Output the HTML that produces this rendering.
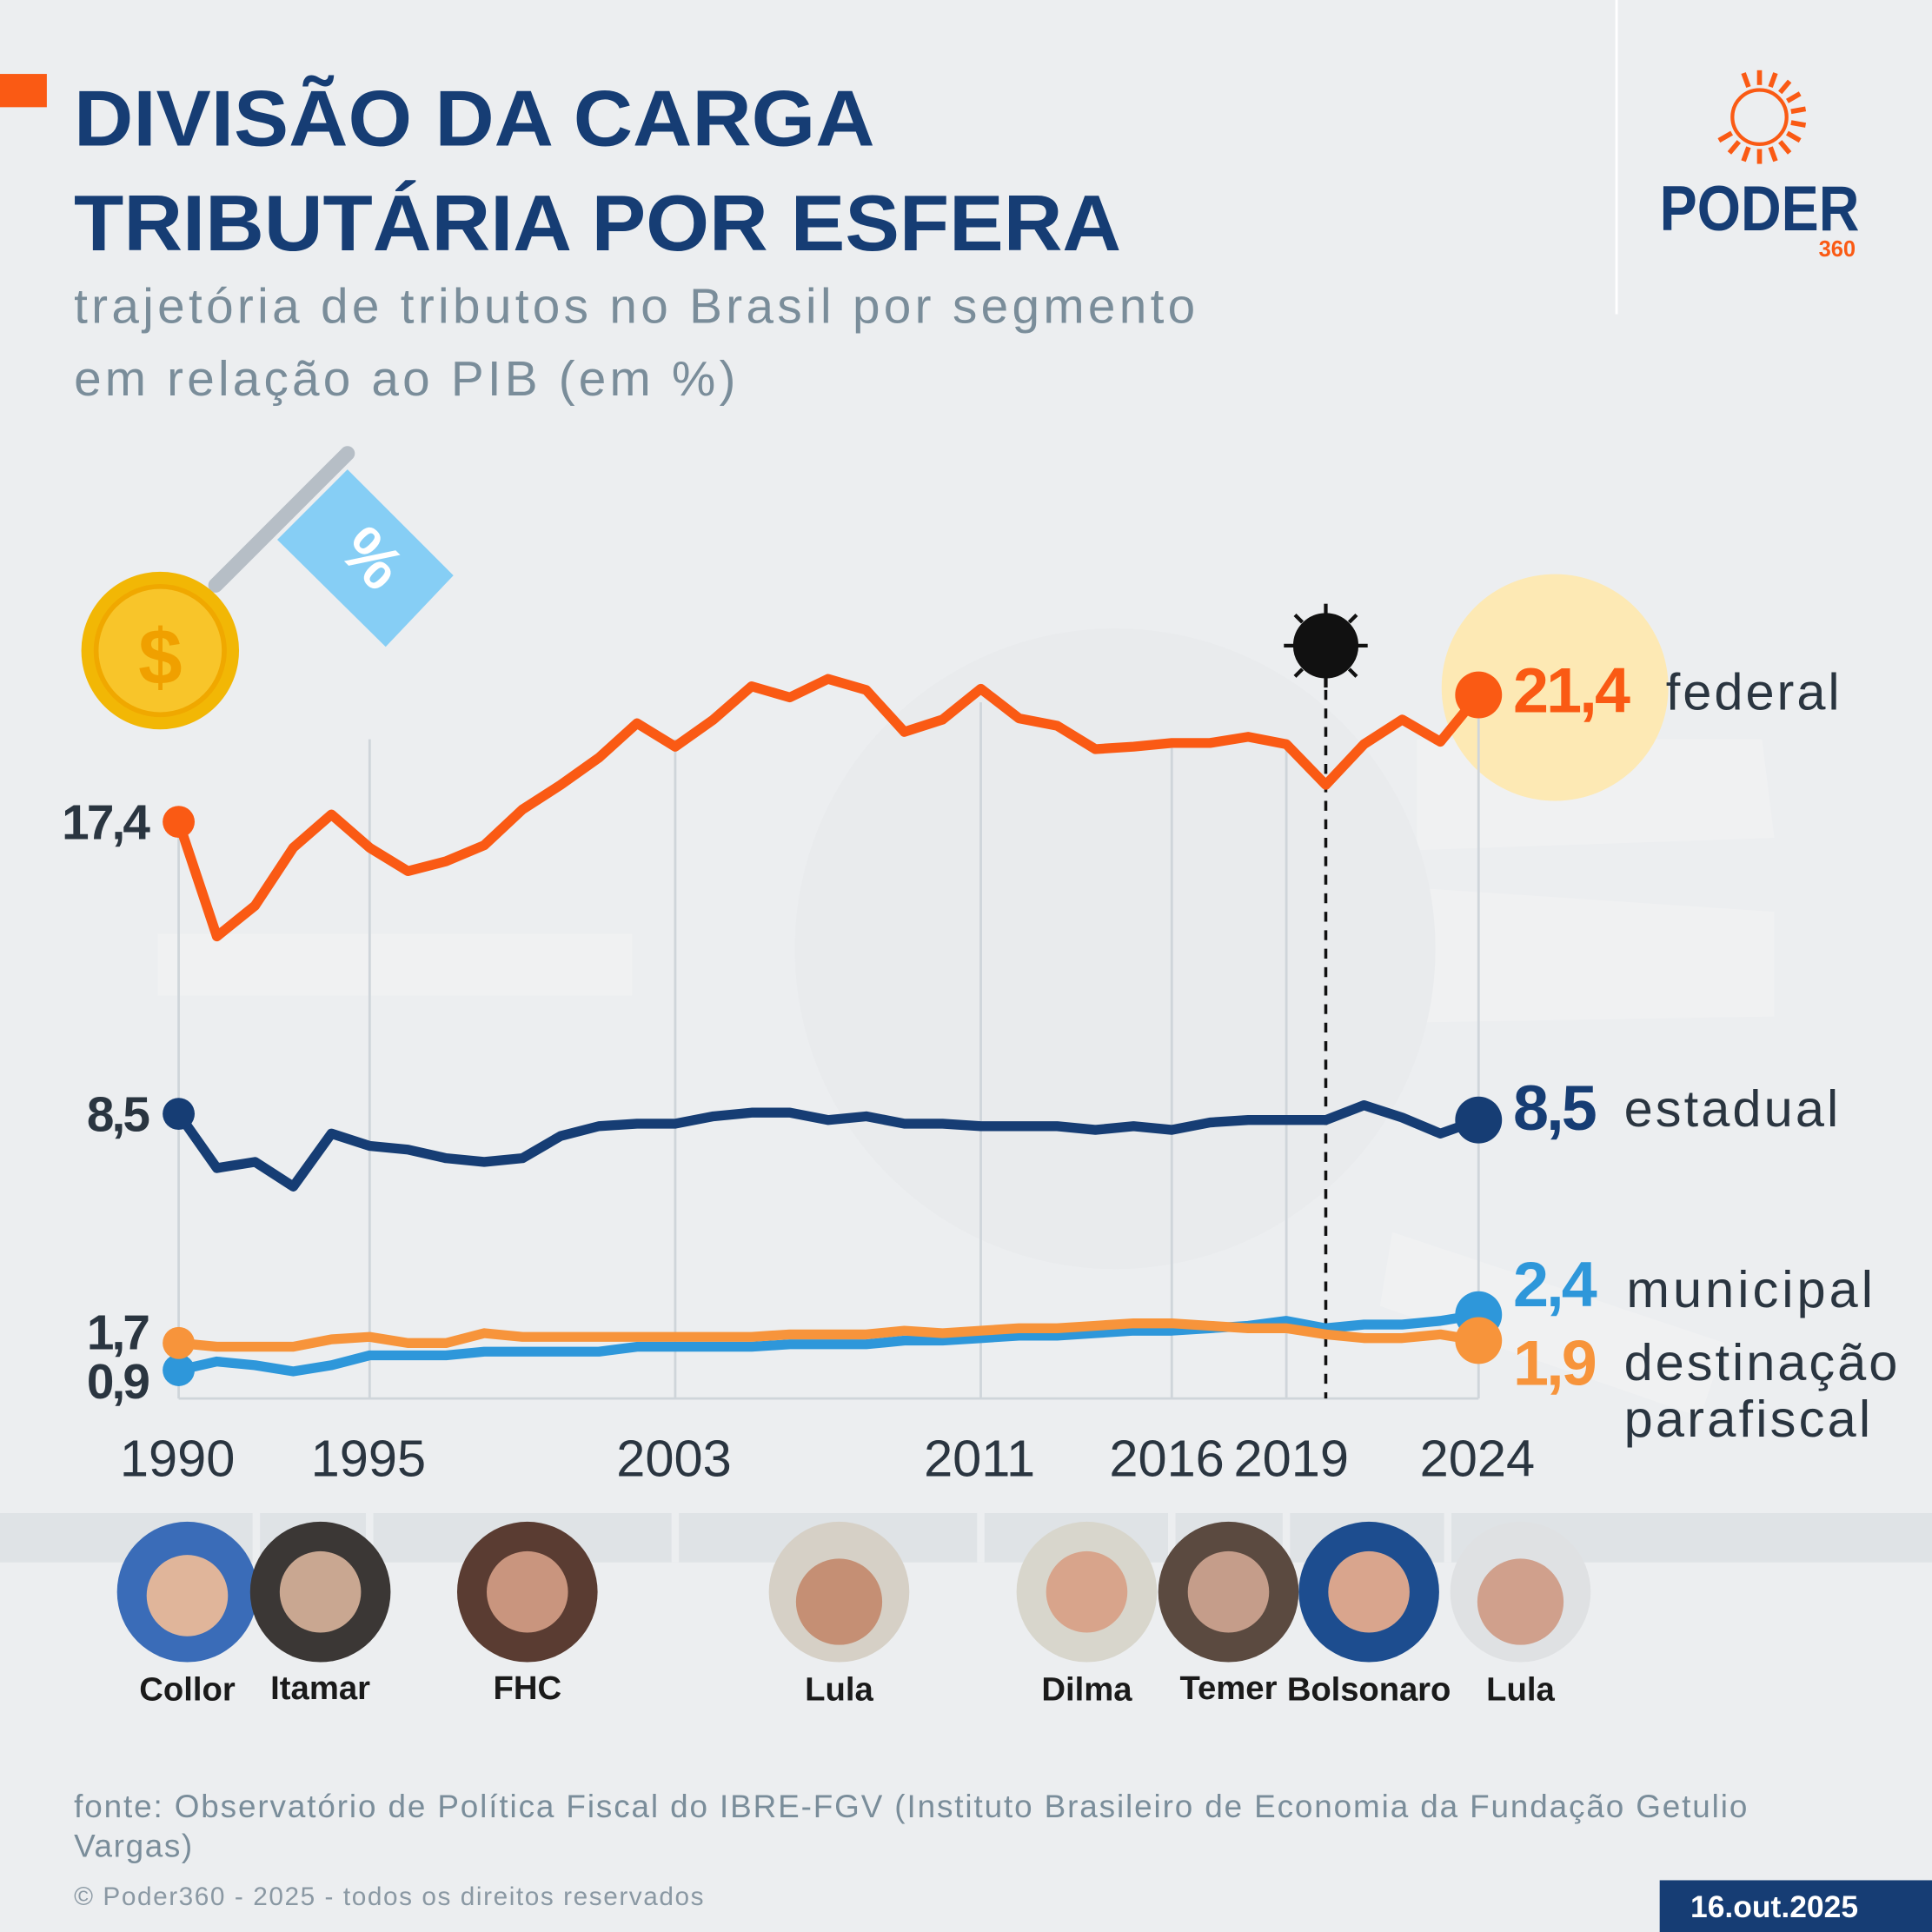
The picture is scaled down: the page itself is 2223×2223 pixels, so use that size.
<!DOCTYPE html>
<html><head><meta charset="utf-8"><style>
html,body{margin:0;padding:0;background:#eceef0}
svg{display:block}
text{font-family:"Liberation Sans",sans-serif}
</style></head><body>
<svg width="2223" height="2223" viewBox="0 0 1568 1568" xmlns="http://www.w3.org/2000/svg">
<rect width="1568" height="1568" fill="#eceef0"/>
<g fill="#f0f1f2">
<rect x="128" y="758" width="385" height="50"/>
<polygon points="1140,720 1440,740 1440,825 1140,830"/>
<polygon points="1150,600 1430,600 1440,680 1150,690"/>
<polygon points="1130,1000 1400,1090 1380,1150 1120,1060"/>
</g>
<circle cx="905" cy="770" r="260" fill="#e9ebed"/>
<line x1="1312" y1="0" x2="1312" y2="255" stroke="#fff" stroke-width="2"/>
<rect x="0" y="60" width="38" height="27" fill="#fa5a14"/>
<text x="60" y="118" font-size="64" font-weight="bold" fill="#163d74" textLength="650" lengthAdjust="spacingAndGlyphs">DIVISÃO DA CARGA</text>
<text x="60" y="203" font-size="64" font-weight="bold" fill="#163d74" textLength="850" lengthAdjust="spacingAndGlyphs">TRIBUTÁRIA POR ESFERA</text>
<text x="60" y="262" font-size="40" fill="#7a8d9a" textLength="910">trajetória de tributos no Brasil por segmento</text>
<text x="60" y="321" font-size="40" fill="#7a8d9a" textLength="537">em relação ao PIB (em %)</text>
<!-- logo -->
<g transform="translate(1428,95)" stroke="#fa5a14" stroke-width="4">
<circle r="22" fill="none" stroke-width="3"/>
<g id="ray"><line x1="0" y1="-26" x2="0" y2="-38"/></g>
<use href="#ray" transform="rotate(20)"/><use href="#ray" transform="rotate(40)"/><use href="#ray" transform="rotate(60)"/><use href="#ray" transform="rotate(80)"/><use href="#ray" transform="rotate(100)"/><use href="#ray" transform="rotate(120)"/><use href="#ray" transform="rotate(140)"/><use href="#ray" transform="rotate(160)"/><use href="#ray" transform="rotate(180)"/><use href="#ray" transform="rotate(200)"/><use href="#ray" transform="rotate(220)"/><use href="#ray" transform="rotate(240)"/><use href="#ray" transform="rotate(-20)"/>
</g>
<text x="1347" y="187" font-size="52" font-weight="bold" fill="#163d74" textLength="162" lengthAdjust="spacingAndGlyphs">PODER</text>
<text x="1476" y="208" font-size="18" font-weight="bold" fill="#fa5a14">360</text>
<!-- coin & flag -->
<line x1="175" y1="475" x2="282" y2="368" stroke="#b6bec6" stroke-width="12" stroke-linecap="round"/>
<polygon points="225,438 282,381 368,467 313,525" fill="#86cef5"/>
<text x="300" y="470" font-size="52" font-weight="bold" fill="#fff" text-anchor="middle" transform="rotate(45 300 455)">%</text>
<circle cx="130" cy="528" r="64" fill="#f2b705"/>
<circle cx="130" cy="528" r="52" fill="#f8c52a" stroke="#f0a800" stroke-width="4"/>
<text x="130" y="555" font-size="64" font-weight="bold" fill="#f0a000" text-anchor="middle">$</text>
<!-- highlight -->
<circle cx="1262" cy="558" r="92" fill="#fde9b4"/>
<!-- grid -->
<g stroke="#cfd5da" stroke-width="2">
<line x1="145" y1="665" x2="145" y2="1135"/><line x1="300" y1="600" x2="300" y2="1135"/><line x1="548" y1="600" x2="548" y2="1135"/><line x1="796" y1="570" x2="796" y2="1135"/><line x1="951" y1="600" x2="951" y2="1135"/><line x1="1044" y1="600" x2="1044" y2="1135"/><line x1="1200" y1="570" x2="1200" y2="1135"/>
<line x1="145" y1="1135" x2="1200" y2="1135"/>
</g>
<line x1="1076" y1="560" x2="1076" y2="1135" stroke="#111" stroke-width="2.5" stroke-dasharray="8,7"/>
<g transform="translate(1076,524)" fill="#111" stroke="#111">
<circle r="26"/><g stroke-width="3"><line y1="-26" y2="-34"/><line y1="26" y2="34"/><line x1="-26" x2="-34"/><line x1="26" x2="34"/><line x1="-19" y1="-19" x2="-25" y2="-25"/><line x1="19" y1="19" x2="25" y2="25"/><line x1="19" y1="-19" x2="25" y2="-25"/><line x1="-19" y1="19" x2="-25" y2="25"/></g>
</g>
<!-- lines -->
<g fill="none" stroke-width="8" stroke-linejoin="round">
<polyline stroke="#fa5a14" points="145,667 176,760 207,735 238,688 269,661 300,688 331,707 362,699 393,686 424,657 455,637 486,615 517,587 548,606 579,584 610,557 641,566 672,551 703,560 734,594 765,584 796,559 827,583 858,589 889,608 920,606 951,603 982,603 1013,598 1044,604 1076,637 1107,604 1138,584 1169,602 1200,564"/>
<polyline stroke="#163d74" points="145,904 176,948 207,943 238,963 269,920 300,930 331,933 362,940 393,943 424,940 455,922 486,914 517,912 548,912 579,906 610,903 641,903 672,909 703,906 734,912 765,912 796,914 827,914 858,914 889,917 920,914 951,917 982,911 1013,909 1044,909 1076,909 1107,897 1138,907 1169,920 1200,909"/>
<polyline stroke="#2e97da" points="145,1112 176,1105 207,1108 238,1113 269,1108 300,1100 331,1100 362,1100 393,1097 424,1097 455,1097 486,1097 517,1093 548,1093 579,1093 610,1093 641,1091 672,1091 703,1091 734,1088 765,1088 796,1086 827,1084 858,1084 889,1082 920,1080 951,1080 982,1078 1013,1076 1044,1072 1076,1078 1107,1075 1138,1075 1169,1072 1200,1067"/>
<polyline stroke="#f7943b" points="145,1090 176,1093 207,1093 238,1093 269,1087 300,1085 331,1090 362,1090 393,1082 424,1085 455,1085 486,1085 517,1085 548,1085 579,1085 610,1085 641,1083 672,1083 703,1083 734,1080 765,1082 796,1080 827,1078 858,1078 889,1076 920,1074 951,1074 982,1076 1013,1078 1044,1078 1076,1083 1107,1086 1138,1086 1169,1083 1200,1088"/>
</g>
<circle cx="145" cy="667" r="13" fill="#fa5a14"/><circle cx="1200" cy="564" r="19" fill="#fa5a14"/>
<circle cx="145" cy="904" r="13" fill="#163d74"/><circle cx="1200" cy="909" r="19" fill="#163d74"/>
<circle cx="145" cy="1112" r="13" fill="#2e97da"/><circle cx="1200" cy="1067" r="19" fill="#2e97da"/>
<circle cx="145" cy="1090" r="13" fill="#f7943b"/><circle cx="1200" cy="1088" r="19" fill="#f7943b"/>
<g font-size="40" font-weight="bold" fill="#2a3540" text-anchor="end" letter-spacing="-2">
<text x="120" y="681">17,4</text><text x="120" y="918">8,5</text><text x="120" y="1095">1,7</text><text x="120" y="1135">0,9</text></g>
<g font-size="52" font-weight="bold" letter-spacing="-2">
<text x="1228" y="578" fill="#fa5a14">21,4</text><text x="1228" y="917" fill="#163d74">8,5</text>
<text x="1228" y="1060" fill="#2e97da">2,4</text><text x="1228" y="1124" fill="#f7943b">1,9</text></g>
<g font-size="42" fill="#2a3540">
<text x="1352" y="576" textLength="141">federal</text><text x="1318" y="914" textLength="174">estadual</text><text x="1320" y="1061" textLength="200">municipal</text><text x="1318" y="1120" textLength="222">destinação</text><text x="1318" y="1166" textLength="200">parafiscal</text></g>
<g font-size="42" fill="#2a3540" text-anchor="middle">
<text x="144" y="1198">1990</text><text x="299" y="1198">1995</text><text x="547" y="1198">2003</text><text x="795" y="1198">2011</text><text x="947" y="1198">2016</text><text x="1048" y="1198">2019</text><text x="1199" y="1198">2024</text></g>
<!-- band -->
<rect x="0" y="1228" width="1568" height="40" fill="#dfe3e6"/>
<g stroke="#eceef0" stroke-width="6"><line x1="208" y1="1228" x2="208" y2="1268"/><line x1="300" y1="1228" x2="300" y2="1268"/><line x1="548" y1="1228" x2="548" y2="1268"/><line x1="796" y1="1228" x2="796" y2="1268"/><line x1="951" y1="1228" x2="951" y2="1268"/><line x1="1044" y1="1228" x2="1044" y2="1268"/><line x1="1175" y1="1228" x2="1175" y2="1268"/></g>
<g>
<circle cx="152" cy="1292" r="57" fill="#3a6cb8"/><circle cx="152" cy="1295" r="33" fill="#e0b59a"/>
<circle cx="260" cy="1292" r="57" fill="#3b3735"/><circle cx="260" cy="1292" r="33" fill="#c9a791"/>
<circle cx="428" cy="1292" r="57" fill="#5a3c32"/><circle cx="428" cy="1292" r="33" fill="#c9957e"/>
<circle cx="681" cy="1292" r="57" fill="#d6d0c6"/><circle cx="681" cy="1300" r="35" fill="#c58f74"/>
<circle cx="882" cy="1292" r="57" fill="#d8d6cc"/><circle cx="882" cy="1292" r="33" fill="#d8a48b"/>
<circle cx="997" cy="1292" r="57" fill="#5b4a40"/><circle cx="997" cy="1292" r="33" fill="#c59d8a"/>
<circle cx="1111" cy="1292" r="57" fill="#1d4d8f"/><circle cx="1111" cy="1292" r="33" fill="#d9a58d"/>
<circle cx="1234" cy="1292" r="57" fill="#dfe1e3"/><circle cx="1234" cy="1300" r="35" fill="#d0a08c"/>
</g>
<g font-size="27" font-weight="bold" fill="#1a1a1a" text-anchor="middle">
<text x="152" y="1380">Collor</text><text x="260" y="1379">Itamar</text><text x="428" y="1379">FHC</text><text x="681" y="1380">Lula</text><text x="882" y="1380">Dilma</text><text x="997" y="1379">Temer</text><text x="1111" y="1380" textLength="133">Bolsonaro</text><text x="1234" y="1380">Lula</text></g>
<text x="60" y="1475" font-size="26" fill="#7a8d9a" textLength="1358">fonte: Observatório de Política Fiscal do IBRE-FGV (Instituto Brasileiro de Economia da Fundação Getulio</text>
<text x="60" y="1507" font-size="26" fill="#7a8d9a" textLength="96">Vargas)</text>
<text x="60" y="1546" font-size="21" fill="#8a98a3" textLength="511">© Poder360 - 2025 - todos os direitos reservados</text>
<rect x="1347" y="1526" width="221" height="42" fill="#163d74"/>
<text x="1440" y="1556" font-size="25" font-weight="bold" fill="#fff" text-anchor="middle">16.out.2025</text>
</svg>
</body></html>
